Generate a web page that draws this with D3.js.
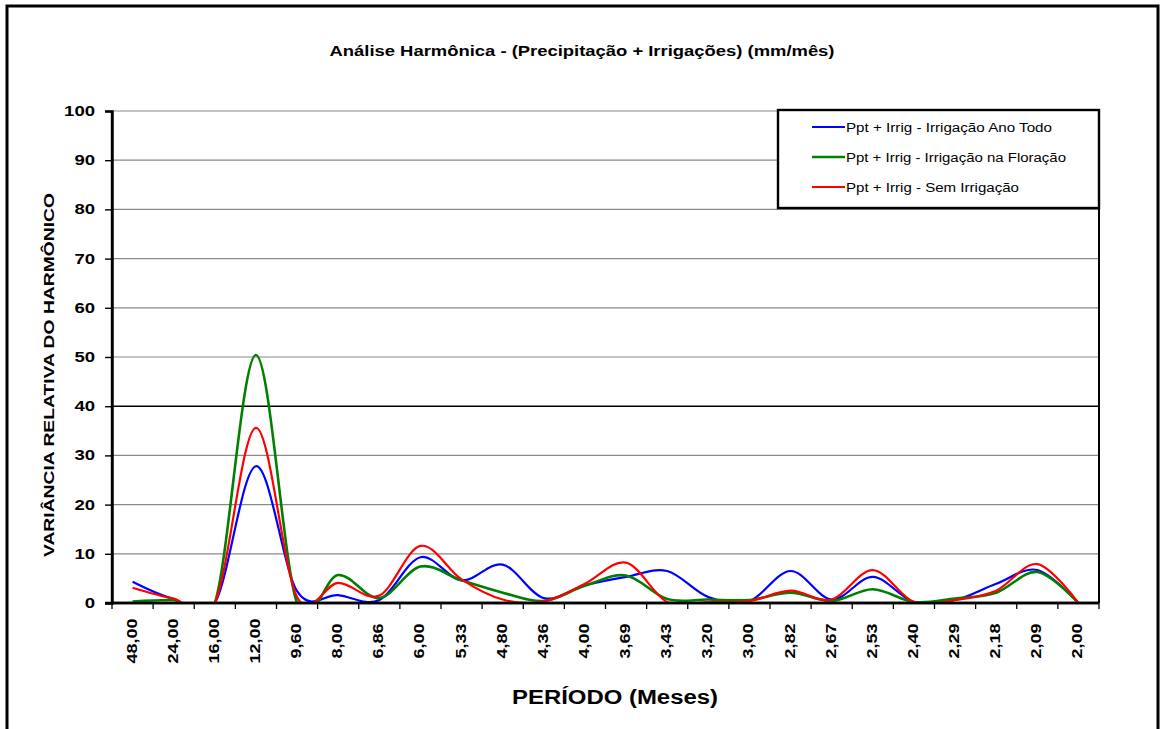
<!DOCTYPE html>
<html>
<head>
<meta charset="utf-8">
<script src="https://cdn.jsdelivr.net/npm/d3@7"></script>
<style>
  html, body { margin: 0; padding: 0; background: #fff; }
  svg { display: block; font-family: "Liberation Sans", Arial, sans-serif; }
</style>
</head>
<body>
<svg id="chart" width="1161" height="729"></svg>
<script>
// Harmonic periods (months), one per category
const categories = ["48,00","24,00","16,00","12,00","9,60","8,00","6,86","6,00","5,33","4,80","4,36","4,00",
                    "3,69","3,43","3,20","3,00","2,82","2,67","2,53","2,40","2,29","2,18","2,09","2,00"];

// Relative variance of each harmonic (%)
const irrigAnoTodo   = [4.3, 0.8, 0, 27.8, 2.4, 1.6, 0.6, 9.3, 4.6, 7.8, 1.0, 3.6, 5.3, 6.5, 1.2, 0.4, 6.5, 0.7, 5.3, 0.2, 0.6, 3.9, 6.7, 0];
const irrigFloracao  = [0.3, 0.6, 0, 50.4, 0, 5.7, 1.0, 7.4, 4.6, 2.1, 0.4, 3.5, 5.6, 0.8, 0.7, 0.6, 2.1, 0.4, 2.8, 0.2, 0.9, 2.1, 6.3, 0];
const semIrrigacao   = [3.1, 0.9, 0, 35.6, 1.2, 4.1, 1.5, 11.6, 4.8, 0.7, 0.3, 3.9, 8.2, 0.2, 0.2, 0.4, 2.5, 0.7, 6.7, 0.2, 0.6, 2.5, 7.9, 0];

const seriesNames = ["Ppt + Irrig - Irrigação Ano Todo", "Ppt + Irrig - Irrigação na Floração", "Ppt + Irrig - Sem Irrigação"];
const yTicks = [0, 10, 20, 30, 40, 50, 60, 70, 80, 90, 100];

const series = [
  { name: seriesNames[0], values: irrigAnoTodo,  color: "#0000ff", width: 2.2 },
  { name: seriesNames[1], values: irrigFloracao, color: "#008000", width: 2.6 },
  { name: seriesNames[2], values: semIrrigacao,  color: "#ff0000", width: 2.2 }
];

const svg = d3.select("#chart");
const plot = { left: 112, right: 1099, top: 111, bottom: 603 };

// outer frame
svg.append("rect")
  .attr("x", 7).attr("y", 6).attr("width", 1151).attr("height", 760)
  .attr("fill", "#fff").attr("stroke", "#000").attr("stroke-width", 3);

const x = d3.scaleBand().domain(categories).range([plot.left, plot.right]).paddingInner(0).paddingOuter(0);
const y = d3.scaleLinear().domain([0, 100]).range([plot.bottom, plot.top]);
const cx = c => x(c) + x.bandwidth() / 2;

// horizontal gridlines
svg.append("g").selectAll("line")
  .data(yTicks.filter(t => t > 0))
  .join("line")
  .attr("x1", plot.left).attr("x2", plot.right)
  .attr("y1", d => y(d)).attr("y2", d => y(d))
  .attr("stroke", d => d === 40 ? "#000" : "#8a8a8a")
  .attr("stroke-width", d => d === 40 ? 1.6 : 1.2);

// right border of plot area
svg.append("line")
  .attr("x1", plot.right).attr("x2", plot.right)
  .attr("y1", plot.top).attr("y2", plot.bottom)
  .attr("stroke", "#000").attr("stroke-width", 2);

// y axis
const yAxis = d3.axisLeft(y).tickValues(yTicks).tickSize(7).tickPadding(10).tickFormat(d3.format("d"));
const gy = svg.append("g").attr("transform", `translate(${plot.left},0)`).call(yAxis);
gy.select(".domain").attr("stroke", "#000").attr("stroke-width", 2.4);
gy.selectAll(".tick line").attr("stroke", "#000").attr("stroke-width", 1.4);
gy.selectAll(".tick text")
  .attr("font-size", 14).attr("font-weight", "bold").attr("fill", "#000")
  .attr("font-family", "Liberation Sans, Arial, sans-serif")
  .attr("x", -17)
  .attr("textLength", d => String(d).length * 10.3)
  .attr("lengthAdjust", "spacingAndGlyphs");

// x axis with ticks at category boundaries
const gx = svg.append("g").attr("transform", `translate(0,${plot.bottom})`);
gx.append("line")
  .attr("x1", plot.left - 7).attr("x2", plot.right)
  .attr("stroke", "#000").attr("stroke-width", 2.4);
const boundaries = categories.map(c => x(c)).concat([plot.right]);
gx.selectAll("line.tk").data(boundaries).join("line").attr("class", "tk")
  .attr("x1", d => d).attr("x2", d => d).attr("y1", 0).attr("y2", 6)
  .attr("stroke", "#000").attr("stroke-width", 1.3);
gx.selectAll("text").data(categories).join("text")
  .attr("transform", d => `translate(${cx(d) + 4},${641 - plot.bottom}) rotate(-90)`)
  .attr("text-anchor", "middle")
  .attr("font-size", 14).attr("font-weight", "bold").attr("fill", "#000")
  .attr("textLength", d => d.length === 5 ? 45 : 35)
  .attr("lengthAdjust", "spacingAndGlyphs")
  .text(d => d);

// curves, clipped to the plot area
svg.append("clipPath").attr("id", "plotClip")
  .append("rect")
  .attr("x", plot.left).attr("y", plot.top)
  .attr("width", plot.right - plot.left).attr("height", plot.bottom - plot.top - 1);

const line = d3.line()
  .x((d, i) => cx(categories[i]))
  .y(d => y(d))
  .curve(d3.curveCardinal.tension(0));

svg.append("g").attr("clip-path", "url(#plotClip)")
  .selectAll("path").data(series).join("path")
  .attr("d", s => line(s.values))
  .attr("fill", "none")
  .attr("stroke", s => s.color)
  .attr("stroke-width", s => s.width)
  .attr("stroke-linejoin", "round");

// redraw axis lines over curves
svg.append("line")
  .attr("x1", plot.left).attr("x2", plot.right)
  .attr("y1", plot.bottom).attr("y2", plot.bottom)
  .attr("stroke", "#000").attr("stroke-width", 2.4);
svg.append("line")
  .attr("x1", plot.left).attr("x2", plot.left)
  .attr("y1", plot.top).attr("y2", plot.bottom + 1)
  .attr("stroke", "#000").attr("stroke-width", 2.4);

// legend
const legend = svg.append("g");
legend.append("rect")
  .attr("x", 778).attr("y", 110).attr("width", 321).attr("height", 98)
  .attr("fill", "#fff").attr("stroke", "#000").attr("stroke-width", 2.4);
const legendWidths = [206, 220, 173];
const rows = legend.selectAll("g.row").data(series).join("g").attr("class", "row")
  .attr("transform", (d, i) => `translate(0,${127 + i * 30})`);
rows.append("line")
  .attr("x1", 812).attr("x2", 845)
  .attr("stroke", s => s.color).attr("stroke-width", s => s.width);
rows.append("text")
  .attr("x", 846).attr("y", 4.5)
  .attr("font-size", 12).attr("fill", "#000")
  .attr("textLength", (d, i) => legendWidths[i])
  .attr("lengthAdjust", "spacingAndGlyphs")
  .text(s => s.name);

// titles
svg.append("text")
  .attr("x", 582).attr("y", 56).attr("text-anchor", "middle")
  .attr("font-size", 14).attr("font-weight", "bold").attr("fill", "#000")
  .attr("textLength", 505).attr("lengthAdjust", "spacingAndGlyphs")
  .text("Análise Harmônica - (Precipitação + Irrigações) (mm/mês)");

svg.append("text")
  .attr("x", 615).attr("y", 704).attr("text-anchor", "middle")
  .attr("font-size", 20).attr("font-weight", "bold").attr("fill", "#000")
  .attr("textLength", 206).attr("lengthAdjust", "spacingAndGlyphs")
  .text("PERÍODO (Meses)");

svg.append("text")
  .attr("transform", "translate(54,375) rotate(-90)")
  .attr("text-anchor", "middle")
  .attr("font-size", 15).attr("font-weight", "bold").attr("fill", "#000")
  .attr("textLength", 364).attr("lengthAdjust", "spacingAndGlyphs")
  .text("VARIÂNCIA RELATIVA DO HARMÔNICO");
</script>
</body>
</html>
